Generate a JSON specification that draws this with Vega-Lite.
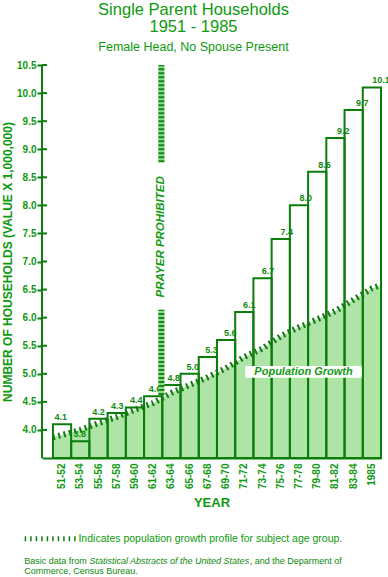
{
  "$schema": "https://vega.github.io/schema/vega-lite/v6.json",
  "width": 339,
  "height": 393,
  "padding": {"left": 1, "top": 2, "right": 6, "bottom": 0},
  "background": "white",
  "data": {"values": [{}]},
  "config": {
    "view": {"stroke": null},
    "font": "Liberation Sans",
    "text": {"font": "Liberation Sans"},
    "axisY": {
      "tickCount": 14,
      "labelExpr": "datum.value < 3.9 ? '' : format(datum.value, '.1f')",
      "labelFontSize": 10,
      "labelFontWeight": "bold",
      "labelColor": "#0e9a0e",
      "labelPadding": 1,
      "labelOverlap": false,
      "domain": false,
      "grid": false,
      "tickSize": 5,
      "tickWidth": 2,
      "tickColor": "#0a7d0a",
      "titleFontSize": 12,
      "titleFontWeight": "bold",
      "titleColor": "#0e9a0e",
      "titlePadding": 2
    }
  },
  "title": {
    "text": ["Single Parent Households", "1951  -  1985"],
    "subtitle": "Female Head, No Spouse Present",
    "fontSize": 16.5,
    "fontWeight": "normal",
    "color": "#0e9a0e",
    "subtitleColor": "#0e9a0e",
    "subtitleFontSize": 12.5,
    "subtitlePadding": 5,
    "lineHeight": 17,
    "anchor": "middle",
    "dx": -18,
    "offset": 7
  },
  "datasets": {
    "households": [
      {"period": "51-52", "start": 1951, "value": 4.1},
      {"period": "53-54", "start": 1953, "value": 3.8},
      {"period": "55-56", "start": 1955, "value": 4.2},
      {"period": "57-58", "start": 1957, "value": 4.3},
      {"period": "59-60", "start": 1959, "value": 4.4},
      {"period": "61-62", "start": 1961, "value": 4.6},
      {"period": "63-64", "start": 1963, "value": 4.8},
      {"period": "65-66", "start": 1965, "value": 5.0},
      {"period": "67-68", "start": 1967, "value": 5.3},
      {"period": "69-70", "start": 1969, "value": 5.6},
      {"period": "71-72", "start": 1971, "value": 6.1},
      {"period": "73-74", "start": 1973, "value": 6.7},
      {"period": "75-76", "start": 1975, "value": 7.4},
      {"period": "77-78", "start": 1977, "value": 8.0},
      {"period": "79-80", "start": 1979, "value": 8.6},
      {"period": "81-82", "start": 1981, "value": 9.2},
      {"period": "83-84", "start": 1983, "value": 9.7},
      {"period": "1985", "start": 1985, "value": 10.1}
    ],
    "population": [
      {"year": 1951, "growth": 3.87},
      {"year": 1952, "growth": 3.91},
      {"year": 1954, "growth": 4.0},
      {"year": 1956, "growth": 4.12},
      {"year": 1958, "growth": 4.23},
      {"year": 1960, "growth": 4.36},
      {"year": 1962, "growth": 4.48},
      {"year": 1964, "growth": 4.66},
      {"year": 1966, "growth": 4.8},
      {"year": 1968, "growth": 4.94},
      {"year": 1970, "growth": 5.1},
      {"year": 1972, "growth": 5.3},
      {"year": 1974, "growth": 5.45},
      {"year": 1976, "growth": 5.67},
      {"year": 1978, "growth": 5.83},
      {"year": 1980, "growth": 5.97},
      {"year": 1982, "growth": 6.12},
      {"year": 1984, "growth": 6.32},
      {"year": 1986, "growth": 6.52},
      {"year": 1987, "growth": 6.58}
    ]
  },
  "resolve": {"scale": {"x": "independent"}, "axis": {"x": "independent"}},
  "layer": [
    {
      "data": {"name": "population"},
      "mark": {"type": "area", "color": "#aee5a6", "opacity": 1},
      "encoding": {
        "x": {"field": "year", "type": "quantitative", "scale": {"domain": [1949.8, 1987], "nice": false, "zero": false}, "axis": null},
        "y": {"field": "growth", "type": "quantitative", "scale": {"domain": [3.5, 10.5], "nice": false, "zero": false}, "axis": {"title": "NUMBER OF HOUSEHOLDS  (VALUE  X  1,000,000)"}},
        "y2": {"datum": 3.5}
      }
    },
    {
      "data": {"name": "population"},
      "mark": {"type": "line", "color": "#157a15", "strokeWidth": 6, "strokeDash": [2, 3.5]},
      "encoding": {
        "x": {"field": "year", "type": "quantitative", "scale": {"domain": [1949.8, 1987], "nice": false, "zero": false}, "axis": null},
        "y": {"field": "growth", "type": "quantitative", "axis": {"title": "NUMBER OF HOUSEHOLDS  (VALUE  X  1,000,000)"}}
      }
    },
    {
      "data": {"name": "households"},
      "mark": {"type": "bar", "fill": "transparent", "stroke": "#0a7d0a", "strokeWidth": 2},
      "encoding": {
        "x": {
          "field": "period", "type": "ordinal", "sort": null,
          "scale": {"paddingInner": 0, "paddingOuter": 0.3, "align": 1},
          "axis": {
            "title": "YEAR",
            "titleFontSize": 13,
            "titleFontWeight": "bold",
            "titleColor": "#0e9a0e",
            "titlePadding": 8,
            "labelAngle": -90,
            "labelAlign": "right",
            "labelBaseline": "middle",
            "labelFontSize": 10,
            "labelFontWeight": "bold",
            "labelColor": "#0e9a0e",
            "labelPadding": 5,
            "ticks": false,
            "domainColor": "#0a7d0a",
            "domainWidth": 2
          }
        },
        "y": {"field": "value", "type": "quantitative", "axis": {"title": "NUMBER OF HOUSEHOLDS  (VALUE  X  1,000,000)", "tickOpacity": {"condition": {"test": "datum.value < 3.9", "value": 0}, "value": 1}}},
        "y2": {"datum": 3.5}
      }
    },
    {
      "data": {"name": "households"},
      "mark": {"type": "text", "dy": -7, "fontSize": 9, "fontWeight": "bold", "color": "#118a11"},
      "encoding": {
        "x": {"field": "period", "type": "ordinal", "sort": null, "scale": {"paddingInner": 0, "paddingOuter": 0.3, "align": 1}, "axis": null},
        "y": {"field": "value", "type": "quantitative", "axis": {"title": "NUMBER OF HOUSEHOLDS  (VALUE  X  1,000,000)"}},
        "text": {"field": "value", "type": "quantitative", "format": ".1f"}
      }
    },
    {
      "mark": {"type": "rule", "color": "#0a7d0a", "strokeWidth": 2},
      "encoding": {
        "x": {"datum": 1949.8, "type": "quantitative", "scale": {"domain": [1949.8, 1987], "nice": false, "zero": false}, "axis": null},
        "y": {"datum": 3.5, "axis": {"title": "NUMBER OF HOUSEHOLDS  (VALUE  X  1,000,000)"}},
        "y2": {"datum": 10.5}
      }
    },
    {
      "data": {"values": [{"tickValue": 4}, {"tickValue": 4.5}, {"tickValue": 5}, {"tickValue": 5.5}, {"tickValue": 6}, {"tickValue": 6.5}, {"tickValue": 7}, {"tickValue": 7.5}, {"tickValue": 8}, {"tickValue": 8.5}, {"tickValue": 9}, {"tickValue": 9.5}, {"tickValue": 10}, {"tickValue": 10.5}]},
      "mark": {"type": "rule", "color": "#0a7d0a", "strokeWidth": 2},
      "encoding": {
        "x": {"datum": 1949.8, "type": "quantitative", "scale": {"domain": [1949.8, 1987], "nice": false, "zero": false}, "axis": null},
        "x2": {"datum": 1950.35},
        "y": {"field": "tickValue", "type": "quantitative", "axis": {"title": "NUMBER OF HOUSEHOLDS  (VALUE  X  1,000,000)"}}
      }
    },
    {
      "data": {"values": [{"seg": "upper", "bottom": 8.77, "top": 10.5}, {"seg": "lower", "bottom": 4.62, "top": 6.14}]},
      "mark": {"type": "rule", "color": "#8fd88f", "strokeWidth": 6},
      "encoding": {
        "x": {"datum": 1962.9, "type": "quantitative", "scale": {"domain": [1949.8, 1987], "nice": false, "zero": false}, "axis": null},
        "y": {"field": "bottom", "type": "quantitative", "axis": {"title": "NUMBER OF HOUSEHOLDS  (VALUE  X  1,000,000)"}},
        "y2": {"field": "top"}
      }
    },
    {
      "data": {"values": [{"seg": "upper", "bottom": 8.77, "top": 10.5}, {"seg": "lower", "bottom": 4.62, "top": 6.14}]},
      "mark": {"type": "rule", "color": "#158a15", "strokeWidth": 6, "strokeDash": [2, 2]},
      "encoding": {
        "x": {"datum": 1962.9, "type": "quantitative", "scale": {"domain": [1949.8, 1987], "nice": false, "zero": false}, "axis": null},
        "y": {"field": "bottom", "type": "quantitative", "axis": {"title": "NUMBER OF HOUSEHOLDS  (VALUE  X  1,000,000)"}},
        "y2": {"field": "top"}
      }
    },
    {
      "mark": {"type": "text", "text": "PRAYER PROHIBITED", "angle": 270, "fontSize": 11.5, "fontWeight": "bold", "fontStyle": "italic", "color": "#139a13", "align": "center", "baseline": "middle"},
      "encoding": {
        "x": {"datum": 1962.9, "type": "quantitative", "scale": {"domain": [1949.8, 1987], "nice": false, "zero": false}, "axis": null},
        "y": {"datum": 7.44, "axis": {"title": "NUMBER OF HOUSEHOLDS  (VALUE  X  1,000,000)"}}
      }
    },
    {
      "mark": {"type": "rect", "color": "white"},
      "encoding": {
        "x": {"datum": 1972.1, "type": "quantitative", "scale": {"domain": [1949.8, 1987], "nice": false, "zero": false}, "axis": null},
        "x2": {"datum": 1984.9},
        "y": {"datum": 4.93, "axis": {"title": "NUMBER OF HOUSEHOLDS  (VALUE  X  1,000,000)"}},
        "y2": {"datum": 5.14}
      }
    },
    {
      "mark": {"type": "text", "text": "Population  Growth", "fontSize": 11, "fontWeight": "bold", "fontStyle": "italic", "color": "#139a13", "align": "center", "baseline": "middle"},
      "encoding": {
        "x": {"datum": 1978.5, "type": "quantitative", "scale": {"domain": [1949.8, 1987], "nice": false, "zero": false}, "axis": null},
        "y": {"datum": 5.04, "axis": {"title": "NUMBER OF HOUSEHOLDS  (VALUE  X  1,000,000)"}}
      }
    },
    {
      "mark": {"type": "rule", "color": "#157a15", "strokeWidth": 5, "strokeDash": [1.5, 4]},
      "encoding": {
        "x": {"datum": 1947.9, "type": "quantitative", "scale": {"domain": [1949.8, 1987], "nice": false, "zero": false}, "axis": null},
        "x2": {"datum": 1953.5},
        "y": {"datum": 2.06, "axis": {"title": "NUMBER OF HOUSEHOLDS  (VALUE  X  1,000,000)"}}
      }
    },
    {
      "mark": {"type": "text", "text": "Indicates population growth profile for subject age group.", "fontSize": 10.5, "color": "#0e9a0e", "align": "left", "baseline": "middle"},
      "encoding": {
        "x": {"datum": 1953.8, "type": "quantitative", "scale": {"domain": [1949.8, 1987], "nice": false, "zero": false}, "axis": null},
        "y": {"datum": 2.06, "axis": {"title": "NUMBER OF HOUSEHOLDS  (VALUE  X  1,000,000)"}}
      }
    },
    {
      "data": {"values": [
        {"piece": "Basic data from", "px": 1947.84, "py": 1.67},
        {"piece": ", and the Deparment of", "px": 1972.6, "py": 1.67},
        {"piece": "Commerce, Census Bureau.", "px": 1947.84, "py": 1.49}
      ]},
      "mark": {"type": "text", "fontSize": 9, "color": "#0a8a0a", "align": "left", "baseline": "middle"},
      "encoding": {
        "x": {"field": "px", "type": "quantitative", "scale": {"domain": [1949.8, 1987], "nice": false, "zero": false}, "axis": null},
        "y": {"field": "py", "type": "quantitative", "axis": {"title": "NUMBER OF HOUSEHOLDS  (VALUE  X  1,000,000)"}},
        "text": {"field": "piece"}
      }
    },
    {
      "data": {"values": [
        {"piece": "Statistical Abstracts of the United States", "px": 1955.0, "py": 1.67}
      ]},
      "mark": {"type": "text", "fontSize": 9, "fontStyle": "italic", "color": "#0a8a0a", "align": "left", "baseline": "middle"},
      "encoding": {
        "x": {"field": "px", "type": "quantitative", "scale": {"domain": [1949.8, 1987], "nice": false, "zero": false}, "axis": null},
        "y": {"field": "py", "type": "quantitative", "axis": {"title": "NUMBER OF HOUSEHOLDS  (VALUE  X  1,000,000)"}},
        "text": {"field": "piece"}
      }
    }
  ]
}
